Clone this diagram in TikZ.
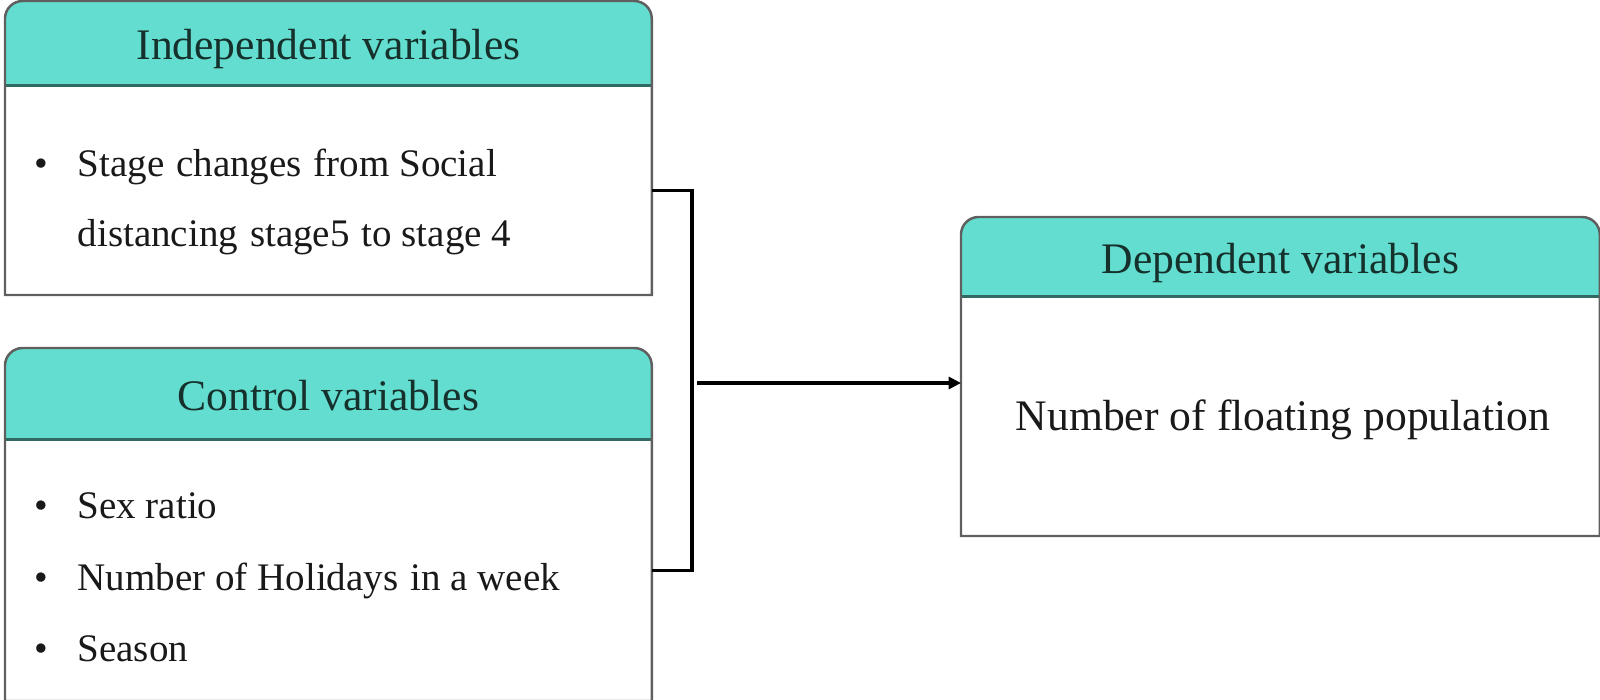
\documentclass[tikz,border=0pt]{standalone}
\usepackage{fontspec}
\setmainfont{Liberation Serif}
\usetikzlibrary{arrows.meta,backgrounds}
\definecolor{hdr}{RGB}{98,221,207}
\definecolor{hdrline}{RGB}{50,105,98}
\definecolor{boxline}{RGB}{95,95,95}
\definecolor{ttl}{RGB}{22,48,44}
\definecolor{txt}{RGB}{25,25,25}
\newcommand{\blt}{\makebox[12.2pt][l]{\textbullet}}
\begin{document}
\begin{tikzpicture}[x=0.01cm,y=-0.01cm,
  hdrbox/.style={draw=none, inner sep=0pt, minimum width=6.45cm, font=\fontsize{12.4}{14}\selectfont, text=ttl, text height=0.94em, text depth=0pt},
  bodybox/.style={draw=none, inner sep=0pt, minimum width=6.45cm},
  item/.style={anchor=base west, inner sep=0pt, font=\fontsize{11.1}{13}\selectfont, text=txt},
  frame/.style={draw=boxline, line width=0.7pt},
  hfill/.style={fill=hdr},
  hline/.style={draw=hdrline, line width=0.7pt},
  link/.style={draw=black, line width=0.9pt},
  ]
\useasboundingbox (0,0) rectangle (1600,700);

% Independent variables
\node[hdrbox, minimum height=0.83cm, anchor=north west] (indh) at (5,1) {Independent variables};
\node[bodybox, minimum height=2.08cm, anchor=north west] (indb) at (indh.south west) {};
% Control variables
\node[hdrbox, minimum height=0.90cm, anchor=north west] (ctrlh) at (5,348) {Control variables};
\node[bodybox, minimum height=2.60cm, anchor=north west] (ctrlb) at (ctrlh.south west) {};
% Dependent variables
\node[hdrbox, minimum width=6.37cm, minimum height=0.78cm, anchor=north west] (deph) at (961,217) {Dependent variables};
\node[bodybox, minimum width=6.37cm, minimum height=2.38cm, anchor=north west] (depb) at (deph.south west) {};

% box shapes
\begin{pgfonlayer}{background}
\foreach \h/\b in {indh/indb, ctrlh/ctrlb, deph/depb}{
  \path[hfill] (\h.south west) [rounded corners=5pt]-- (\h.north west) -- (\h.north east) [sharp corners]-- (\h.south east) -- cycle;
  \draw[hline] (\h.south west) -- (\h.south east);
  \draw[frame] (\b.south west) [rounded corners=5pt]-- (\h.north west) -- (\h.north east) [sharp corners]-- (\b.south east) -- cycle;
}
\end{pgfonlayer}

% texts
\node[item] (i1) at (34,176) {\blt Stage\hspace{0.6pt} changes\hspace{0.6pt} from Social};
\node[item] (i2) at (77,246) {distancing\hspace{0.6pt} stage5\hspace{0.6pt} to stage 4};
\node[item] (c1) at (34,518) {\blt Sex ratio};
\node[item] (c2) at (34,590) {\blt Number of Holidays\hspace{0.6pt} in a week};
\node[item] (c3) at (34,661) {\blt Season};
\node[anchor=base, inner sep=0pt, font=\fontsize{12.4}{14}\selectfont, text=txt] (dv) at (1283,430) {Number of floating population};

% connectors
\coordinate (jx) at (692,383);
\coordinate (ja) at (697,383);
\draw[link] (indb.east) -| (jx) |- (ctrlb.east);
\draw[link, -{Triangle[length=3.5pt, width=3.4pt]}] (ja) -- (ja -| depb.west);
\end{tikzpicture}
\end{document}
